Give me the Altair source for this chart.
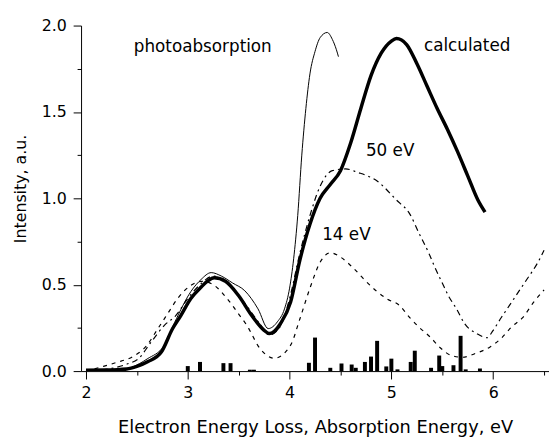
import altair as alt
import pandas as pd

FONT = "DejaVu Sans"

# calculated (thick solid)
calc_x = [2.0, 2.2, 2.4, 2.5, 2.61, 2.74, 2.85, 2.93, 3.03, 3.12, 3.26, 3.37, 3.5, 3.63, 3.75,
          3.80, 3.85, 3.91, 4.01, 4.1, 4.2, 4.3, 4.4, 4.5, 4.6, 4.7, 4.8, 4.9, 5.0, 5.05, 5.15,
          5.25, 5.35, 5.45, 5.55, 5.65, 5.75, 5.85, 5.92]
calc_y = [0.005, 0.006, 0.012, 0.027, 0.055, 0.11, 0.245, 0.32, 0.42, 0.48, 0.54, 0.52, 0.436,
          0.32, 0.236, 0.217, 0.23, 0.274, 0.40, 0.64, 0.85, 1.0, 1.08, 1.16, 1.32, 1.52, 1.71,
          1.84, 1.91, 1.925, 1.89, 1.78, 1.65, 1.52, 1.40, 1.27, 1.13, 0.99, 0.92]

# photoabsorption (thin solid)
photo_x = [2.45, 2.6, 2.77, 2.87, 3.03, 3.13, 3.23, 3.33, 3.44, 3.56, 3.69, 3.79, 3.88, 3.95,
           4.0, 4.04, 4.08, 4.12, 4.16, 4.2, 4.25, 4.3, 4.37, 4.42, 4.46, 4.48]
photo_y = [0.02, 0.07, 0.15, 0.28, 0.46, 0.53, 0.57, 0.55, 0.51, 0.465, 0.36, 0.246, 0.285, 0.36,
           0.48, 0.65, 0.9, 1.25, 1.52, 1.72, 1.85, 1.93, 1.96, 1.92, 1.86, 1.82]

# 50 eV (dash-dot)
ev50_x = [2.0, 2.2, 2.4, 2.52, 2.63, 2.77, 2.88, 3.0, 3.12, 3.25, 3.4, 3.55, 3.7, 3.8, 3.9, 4.0,
          4.1, 4.2, 4.3, 4.42, 4.55, 4.67, 4.86, 5.05, 5.18, 5.27, 5.37, 5.42, 5.5, 5.56, 5.64,
          5.72, 5.84, 5.94, 6.0, 6.08, 6.16, 6.25, 6.33, 6.44, 6.5]
ev50_y = [0.0, 0.01, 0.04, 0.074, 0.16, 0.265, 0.32, 0.42, 0.5, 0.55, 0.5, 0.4, 0.28, 0.21, 0.25,
          0.42, 0.68, 0.9, 1.07, 1.16, 1.17, 1.15, 1.10, 0.99, 0.91, 0.80, 0.68, 0.61, 0.51, 0.436,
          0.36, 0.274, 0.217, 0.193, 0.236, 0.31, 0.38, 0.46, 0.53, 0.63, 0.70]

# 14 eV (dashed)
ev14_x = [2.0, 2.17, 2.3, 2.46, 2.6, 2.7, 2.8, 2.9, 3.04, 3.15, 3.25, 3.4, 3.5, 3.58, 3.71, 3.85,
          4.01, 4.1, 4.2, 4.3, 4.4, 4.5, 4.62, 4.75, 4.85, 4.96, 5.08, 5.18, 5.27, 5.38, 5.48,
          5.59, 5.7, 5.83, 5.97, 6.08, 6.18, 6.29, 6.4, 6.5]
ev14_y = [0.0, 0.027, 0.05, 0.084, 0.15, 0.24, 0.33, 0.42, 0.5, 0.52, 0.5, 0.41, 0.33, 0.265,
          0.13, 0.074, 0.15, 0.3, 0.48, 0.63, 0.685, 0.66, 0.60, 0.52, 0.465, 0.417, 0.38, 0.31,
          0.255, 0.198, 0.135, 0.09, 0.08, 0.103, 0.14, 0.19, 0.255, 0.31, 0.40, 0.47]

# stick spectrum
stick_x = [3.00, 3.12, 3.35, 3.42, 3.61, 3.65, 4.19, 4.25, 4.40, 4.51, 4.61, 4.65, 4.74, 4.80,
           4.86, 4.95, 5.00, 5.06, 5.19, 5.23, 5.39, 5.47, 5.50, 5.61, 5.68, 5.73, 5.87]
stick_h = [0.029, 0.053, 0.046, 0.046, 0.008, 0.008, 0.048, 0.194, 0.019, 0.044, 0.038, 0.019,
           0.053, 0.084, 0.175, 0.027, 0.072, 0.01, 0.053, 0.118, 0.019, 0.09, 0.029, 0.034,
           0.204, 0.01, 0.015]

# annotations
label_text = ["photoabsorption", "calculated", "50 eV", "14 eV"]
label_x = [2.47, 5.32, 4.75, 4.32]
label_y = [1.849, 1.855, 1.246, 0.76]

x_ticks = [2, 2.5, 3, 3.5, 4, 4.5, 5, 5.5, 6, 6.5]
y_ticks = [0, 0.25, 0.5, 0.75, 1.0, 1.25, 1.5, 1.75, 2.0]

x_scale = alt.Scale(domain=[2, 6.5], nice=False, zero=False)
y_scale = alt.Scale(domain=[0, 2], nice=False, zero=False)

x_axis = alt.Axis(
    values=x_ticks,
    labelExpr="datum.value % 1 === 0 ? format(datum.value, 'd') : ''",
    tickSize={"condition": {"test": "datum.value % 1 === 0", "value": 8}, "value": 4},
    labelPadding=6, labelFont=FONT, labelFontSize=16, labelColor="black",
    domainColor="black", tickColor="black", grid=False, labelFlush=False,
    title="Electron Energy Loss, Absorption Energy, eV",
    titleFont=FONT, titleFontSize=18, titleFontWeight="normal", titleColor="black",
    titleBaseline="alphabetic", titleY=62, titleX=237, titleAlign="center",
)
y_axis = alt.Axis(
    values=y_ticks,
    labelExpr="datum.value % 0.5 === 0 ? format(datum.value, '.1f') : ''",
    tickSize={"condition": {"test": "datum.value % 0.5 === 0", "value": 8}, "value": 4},
    labelPadding=7, labelFont=FONT, labelFontSize=16, labelColor="black",
    domainColor="black", tickColor="black", grid=False, labelFlush=False,
    title="Intensity, a.u.",
    titleFont=FONT, titleFontSize=16, titleFontWeight="normal", titleColor="black",
    titleAngle=-90, titleBaseline="bottom", titleAlign="center", titleX=-53, titleY=165,
)

def line_df(xs, ys):
    return pd.DataFrame({"x": xs, "y": ys})

calc = alt.Chart(line_df(calc_x, calc_y)).mark_line(
    color="black", strokeWidth=3.5, interpolate="monotone", clip=True
).encode(x=alt.X("x:Q", scale=x_scale, axis=x_axis), y=alt.Y("y:Q", scale=y_scale, axis=y_axis))

photo = alt.Chart(line_df(photo_x, photo_y)).mark_line(
    color="black", strokeWidth=1, interpolate="monotone", clip=True
).encode(x=alt.X("x:Q", scale=x_scale), y=alt.Y("y:Q", scale=y_scale))

ev50 = alt.Chart(line_df(ev50_x, ev50_y)).mark_line(
    color="black", strokeWidth=1.2, strokeDash=[6, 4, 2, 4], interpolate="monotone", clip=True
).encode(x=alt.X("x:Q", scale=x_scale), y=alt.Y("y:Q", scale=y_scale))

ev14 = alt.Chart(line_df(ev14_x, ev14_y)).mark_line(
    color="black", strokeWidth=1.2, strokeDash=[4, 5], interpolate="monotone", clip=True
).encode(x=alt.X("x:Q", scale=x_scale), y=alt.Y("y:Q", scale=y_scale))

sticks = alt.Chart(pd.DataFrame({"x": stick_x, "h": stick_h})).mark_bar(
    color="black", size=4
).encode(x=alt.X("x:Q", scale=x_scale), y=alt.Y("h:Q", scale=y_scale), y2=alt.datum(0))

labels = alt.Chart(pd.DataFrame({"t": label_text, "x": label_x, "y": label_y})).mark_text(
    align="left", baseline="alphabetic", font=FONT, fontSize=17, color="black"
).encode(x=alt.X("x:Q", scale=x_scale), y=alt.Y("y:Q", scale=y_scale), text="t:N")

chart = alt.layer(sticks, ev14, ev50, photo, calc, labels).properties(
    width=474, height=350,
    padding={"left": 74, "top": 15, "right": 0, "bottom": 66},
    autosize=alt.AutoSizeParams(type="none"),
    background="white",
).configure_view(stroke=None)

chart.save("out.html", embed_options={"renderer": "svg", "actions": False})
